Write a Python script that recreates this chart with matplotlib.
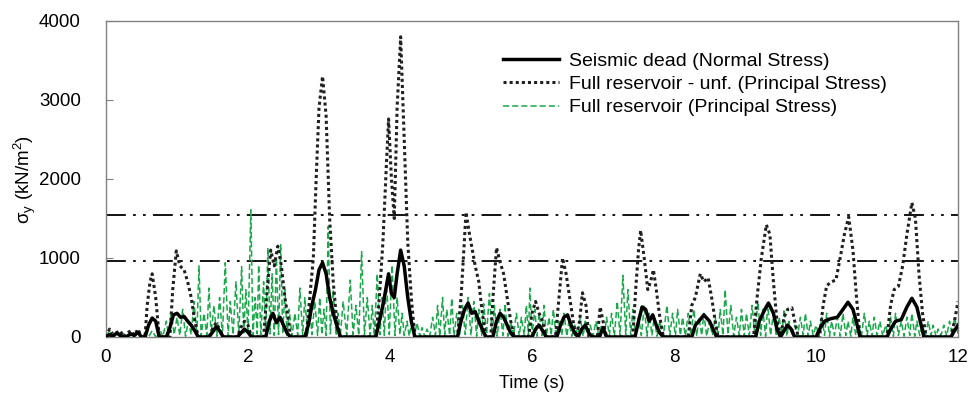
import matplotlib.pyplot as plt

plt.rcParams['font.family'] = ['Liberation Sans', 'DejaVu Sans']
plt.rcParams['mathtext.fontset'] = 'custom'
plt.rcParams['mathtext.rm'] = 'Liberation Sans'
plt.rcParams['mathtext.it'] = 'Liberation Sans:italic'

# Seismic dead (Normal Stress)
dead_t = [0, 0.05, 0.1, 0.15, 0.2, 0.25, 0.3, 0.35, 0.4, 0.45, 0.5, 0.55, 0.6, 0.65, 0.7, 0.75,
          0.85, 0.9, 0.95, 1.0, 1.05, 1.1, 1.15, 1.2, 1.25, 1.3, 1.45, 1.5, 1.55, 1.6, 1.65,
          1.85, 1.9, 1.95, 2.0, 2.05, 2.25, 2.3, 2.35, 2.4, 2.45, 2.5, 2.55, 2.6,
          2.8, 2.85, 2.9, 2.95, 3.0, 3.05, 3.1, 3.15, 3.2, 3.25, 3.3,
          3.8, 3.85, 3.9, 3.95, 3.98, 4.02, 4.06, 4.1, 4.15, 4.2, 4.25, 4.3, 4.35,
          4.95, 5.0, 5.05, 5.1, 5.15, 5.2, 5.25, 5.3, 5.35, 5.45, 5.5, 5.55, 5.6, 5.65, 5.7, 5.75,
          6.0, 6.05, 6.1, 6.15, 6.2, 6.35, 6.4, 6.45, 6.5, 6.55, 6.6, 6.65, 6.7, 6.75, 6.8, 6.85,
          6.95, 7.0, 7.05, 7.45, 7.5, 7.55, 7.6, 7.65, 7.7, 7.75, 7.8, 7.85,
          8.25, 8.3, 8.35, 8.42, 8.5, 8.55, 8.6, 9.15, 9.2, 9.28, 9.33, 9.4, 9.45, 9.5,
          9.55, 9.6, 9.65, 9.7, 10.0, 10.05, 10.12, 10.2, 10.3, 10.38, 10.45, 10.52, 10.58, 10.62,
          11.0, 11.05, 11.12, 11.2, 11.28, 11.35, 11.42, 11.48, 11.52, 11.9, 11.95, 12.0]
dead_v = [0, 30, 10, 50, 20, 0, 10, 40, 20, 60, 0, 0, 150, 240, 200, 0,
          0, 120, 280, 300, 250, 260, 200, 150, 80, 0, 0, 60, 130, 80, 0,
          0, 50, 100, 60, 0, 0, 200, 300, 180, 250, 150, 50, 0,
          0, 150, 400, 600, 850, 940, 800, 500, 300, 150, 0,
          0, 200, 400, 650, 800, 550, 500, 800, 1100, 900, 500, 200, 0,
          0, 200, 350, 430, 300, 320, 200, 100, 0, 0, 200, 300, 250, 150, 50, 0,
          0, 100, 150, 80, 0, 0, 150, 250, 280, 150, 50, 0, 100, 150, 50, 0,
          0, 120, 0, 0, 200, 380, 350, 200, 280, 150, 50, 0,
          0, 150, 200, 280, 200, 100, 0, 0, 200, 350, 430, 300, 100, 0,
          80, 150, 100, 0, 0, 100, 200, 230, 250, 350, 440, 350, 150, 0,
          0, 100, 200, 220, 380, 490, 380, 150, 0, 0, 80, 150]

# Full reservoir - unf. (Principal Stress)
unf_t = [0, 0.05, 0.1, 0.2, 0.25, 0.3, 0.35, 0.4, 0.45, 0.5, 0.55, 0.58, 0.62, 0.65, 0.7, 0.75,
         0.9, 0.94, 0.99, 1.04, 1.1, 1.15, 1.2, 1.25, 1.3, 1.45, 1.5, 1.55, 1.6, 1.65,
         1.85, 1.9, 1.95, 2.0, 2.05, 2.22, 2.27, 2.32, 2.37, 2.42, 2.47, 2.52, 2.57, 2.6,
         2.82, 2.87, 2.92, 2.96, 3.0, 3.05, 3.1, 3.15, 3.2, 3.25, 3.3,
         3.8, 3.85, 3.9, 3.95, 3.98, 4.02, 4.06, 4.1, 4.15, 4.2, 4.25, 4.3, 4.35,
         4.95, 5.0, 5.04, 5.07, 5.12, 5.16, 5.2, 5.25, 5.3, 5.35,
         5.42, 5.45, 5.5, 5.55, 5.6, 5.65, 5.7, 5.75, 5.95, 6.0, 6.05, 6.1, 6.15, 6.2,
         6.33, 6.38, 6.43, 6.48, 6.53, 6.58, 6.62, 6.67, 6.71, 6.76, 6.8, 6.92, 6.96, 7.0, 7.05,
         7.42, 7.46, 7.5, 7.53, 7.58, 7.63, 7.67, 7.71, 7.75, 7.8, 7.85,
         8.2, 8.25, 8.3, 8.37, 8.42, 8.48, 8.53, 8.58, 8.62,
         9.12, 9.17, 9.23, 9.3, 9.35, 9.4, 9.45, 9.5, 9.55, 9.6, 9.66, 9.7, 9.75,
         10.05, 10.1, 10.15, 10.22, 10.28, 10.34, 10.4, 10.46, 10.52, 10.57, 10.62,
         11.0, 11.05, 11.1, 11.16, 11.22, 11.28, 11.35, 11.4, 11.45, 11.5, 11.55,
         11.9, 11.95, 12.0]
unf_v = [0, 100, 30, 80, 0, 50, 80, 20, 100, 0, 0, 400, 700, 800, 500, 0,
         0, 600, 1090, 900, 850, 700, 500, 200, 0, 0, 100, 180, 100, 0,
         0, 120, 200, 150, 0, 0, 600, 1100, 900, 1150, 900, 500, 200, 0,
         0, 500, 1000, 2000, 2900, 3300, 2800, 1500, 700, 200, 0,
         0, 500, 1200, 2200, 2760, 2000, 1500, 2900, 3800, 2500, 1200, 500, 0,
         0, 500, 1100, 1580, 1300, 1100, 900, 700, 300, 0,
         0, 500, 1130, 950, 800, 500, 200, 0, 0, 300, 450, 300, 200, 0,
         0, 500, 1000, 800, 500, 200, 0, 200, 560, 400, 0, 0, 380, 200, 0,
         0, 600, 1100, 1350, 1000, 600, 700, 850, 600, 250, 0,
         0, 400, 500, 800, 700, 750, 500, 200, 0,
         0, 500, 1000, 1420, 1300, 700, 200, 0, 250, 350, 370, 200, 0,
         0, 400, 650, 700, 720, 1000, 1300, 1520, 1100, 500, 0,
         0, 400, 600, 640, 900, 1300, 1700, 1500, 800, 300, 0,
         0, 200, 450]

# Full reservoir (Principal Stress)
full_t = [0, 0.05, 0.1, 0.15, 0.2, 0.25, 0.3, 0.35, 0.4, 0.45, 0.5, 0.55, 0.6, 0.65, 0.7, 0.75,
          0.8, 0.85, 0.88, 0.92, 0.96, 1.0, 1.04, 1.08, 1.12, 1.16, 1.2, 1.24, 1.28, 1.31, 1.34,
          1.38, 1.42, 1.45, 1.48, 1.52, 1.56, 1.6, 1.64, 1.68, 1.72, 1.75, 1.79, 1.83, 1.87, 1.91,
          1.94, 1.97, 2.0, 2.04, 2.07, 2.1, 2.13, 2.15, 2.18, 2.22, 2.25, 2.28, 2.31, 2.34, 2.37,
          2.4, 2.43, 2.46, 2.49, 2.52, 2.55, 2.58, 2.62, 2.66, 2.7, 2.73, 2.77, 2.8, 2.84, 2.87,
          2.9, 2.94, 2.98, 3.01, 3.04, 3.07, 3.1, 3.13, 3.16, 3.2, 3.24, 3.27, 3.3, 3.34, 3.39,
          3.44, 3.48, 3.52, 3.56, 3.6, 3.64, 3.68, 3.72, 3.75, 3.78, 3.82, 3.86, 3.89, 3.92, 3.95,
          3.99, 4.03, 4.07, 4.1, 4.14, 4.17, 4.2, 4.24, 4.27, 4.3, 4.34, 4.38, 4.42, 4.45, 4.49,
          4.52, 4.56, 4.6, 4.64, 4.67, 4.7, 4.74, 4.77, 4.8, 4.84, 4.87, 4.9, 4.94, 4.98, 5.02,
          5.06, 5.1, 5.14, 5.18, 5.22, 5.25, 5.29, 5.32, 5.36, 5.4, 5.44, 5.47, 5.51, 5.55, 5.59,
          5.62, 5.66, 5.7, 5.74, 5.78, 5.82, 5.85, 5.89, 5.92, 5.95, 5.97, 6.0, 6.04, 6.07, 6.1,
          6.14, 6.17, 6.2, 6.24, 6.27, 6.3, 6.34, 6.38, 6.42, 6.45, 6.49, 6.52, 6.56, 6.6, 6.64,
          6.68, 6.72, 6.75, 6.79, 6.82, 6.86, 6.9, 6.94, 6.98, 7.02, 7.05, 7.09, 7.12, 7.16, 7.2,
          7.24, 7.28, 7.32, 7.35, 7.39, 7.42, 7.46, 7.5, 7.54, 7.58, 7.62, 7.65, 7.69, 7.72, 7.76,
          7.8, 7.85, 7.9, 7.94, 7.98, 8.02, 8.05, 8.09, 8.12, 8.16, 8.2, 8.24, 8.28, 8.32, 8.35,
          8.39, 8.42, 8.46, 8.5, 8.54, 8.58, 8.62, 8.65, 8.69, 8.72, 8.76, 8.8, 8.84, 8.88, 8.92,
          8.95, 8.99, 9.02, 9.06, 9.1, 9.14, 9.18, 9.22, 9.25, 9.29, 9.32, 9.36, 9.4, 9.44, 9.48,
          9.52, 9.55, 9.59, 9.62, 9.66, 9.7, 9.74, 9.78, 9.82, 9.85, 9.89, 9.92, 9.96, 10.0, 10.04,
          10.08, 10.12, 10.15, 10.19, 10.22, 10.26, 10.3, 10.34, 10.38, 10.42, 10.45, 10.49, 10.52,
          10.56, 10.6, 10.64, 10.68, 10.72, 10.75, 10.79, 10.82, 10.86, 10.9, 10.94, 10.98, 11.02,
          11.05, 11.09, 11.12, 11.16, 11.2, 11.24, 11.28, 11.32, 11.35, 11.39, 11.42, 11.46, 11.5,
          11.54, 11.58, 11.62, 11.65, 11.69, 11.72, 11.76, 11.8, 11.84, 11.88, 11.92, 11.95, 12.0]
full_v = [0, 80, 10, 60, 0, 40, 0, 30, 0, 50, 0, 40, 0, 80, 0, 120,
          0, 200, 20, 300, 30, 250, 20, 350, 10, 200, 30, 450, 20, 900, 10,
          300, 20, 620, 30, 400, 10, 500, 20, 940, 10, 450, 30, 700, 20, 890,
          50, 600, 30, 1610, 20, 500, 40, 910, 30, 700, 20, 1130, 40, 800, 20,
          1000, 30, 1170, 40, 600, 20, 350, 10, 300, 20, 620, 30, 500, 20, 400,
          30, 450, 20, 500, 30, 350, 20, 1400, 40, 600, 20, 300, 10, 450, 20,
          720, 30, 400, 20, 1080, 30, 500, 20, 400, 10, 800, 30, 500, 20, 700,
          30, 910, 20, 500, 30, 300, 20, 200, 10, 150, 0, 180, 10, 120, 0,
          100, 10, 250, 20, 400, 10, 500, 30, 350, 20, 490, 10, 300, 20, 400,
          30, 500, 20, 450, 10, 350, 20, 420, 30, 550, 20, 400, 10, 350, 20,
          420, 10, 200, 20, 300, 10, 250, 20, 400, 30, 620, 20, 350, 10, 300,
          20, 400, 10, 250, 20, 350, 10, 200, 20, 300, 10, 200, 10, 150, 20,
          250, 10, 200, 20, 150, 10, 200, 20, 150, 10, 250, 20, 300, 10, 450,
          20, 780, 30, 600, 20, 350, 10, 250, 20, 400, 10, 300, 20, 250, 10,
          200, 10, 400, 20, 300, 10, 350, 20, 250, 10, 300, 20, 350, 10, 250,
          20, 300, 10, 200, 20, 250, 10, 350, 20, 600, 30, 400, 10, 250, 20,
          350, 10, 300, 20, 400, 10, 450, 20, 350, 10, 400, 20, 300, 10, 250,
          20, 350, 10, 200, 20, 150, 10, 250, 20, 300, 10, 200, 20, 150, 10,
          250, 20, 300, 10, 200, 20, 250, 10, 300, 20, 200, 10, 250,
          20, 150, 10, 300, 20, 200, 10, 250, 20, 200, 10, 150, 20,
          250, 10, 300, 20, 200, 10, 250, 20, 300, 10, 200, 20, 150,
          10, 200, 20, 150, 10, 100, 20, 150, 10, 200, 20, 250, 40]

# horizontal reference levels
levels = [960, 1550]

fig = plt.figure(figsize=(9.68, 3.96), dpi=100)
ax = fig.add_axes([0.1095, 0.149, 0.8802, 0.798])

ax.plot(full_t, full_v, color='#1aa84a', lw=1.1, dashes=(4, 2),
        label='Full reservoir (Principal Stress)', zorder=2)
ax.plot(unf_t, unf_v, color='#202020', lw=2.2, dashes=(1, 1),
        label='Full reservoir - unf. (Principal Stress)', zorder=3)
ax.plot(dead_t, dead_v, color='black', lw=2.5,
        label='Seismic dead (Normal Stress)', zorder=4)
for lv in levels:
    ax.axhline(lv, color='black', lw=1.3, dashes=(11, 4, 1.5, 4, 1.5, 4), zorder=1)

ax.set_xlim(0, 12)
ax.set_ylim(0, 4000)
ax.set_xticks(range(0, 13, 2))
ax.set_yticks(range(0, 4001, 1000))
ax.tick_params(axis='y', direction='in', length=5, color='#808080', labelsize=13.5, pad=18)
ax.tick_params(axis='x', length=0, labelsize=13.5, pad=9)
for s in ax.spines.values():
    s.set_color('#808080')
    s.set_linewidth(1)

ax.set_xlabel('Time (s)', fontsize=13, labelpad=6)
ax.set_ylabel(r'$\mathrm{\sigma}_\mathrm{y}$ (kN/m$^2$)', fontsize=13.5, labelpad=1)

h, l = ax.get_legend_handles_labels()
ax.legend(h[::-1], l[::-1], loc='upper left', bbox_to_anchor=(0.466, 0.90), frameon=False,
          fontsize=14, handlelength=2.9, handletextpad=0.5, labelspacing=0.28,
          borderaxespad=0, borderpad=0)

fig.savefig('out.png', dpi=100)
